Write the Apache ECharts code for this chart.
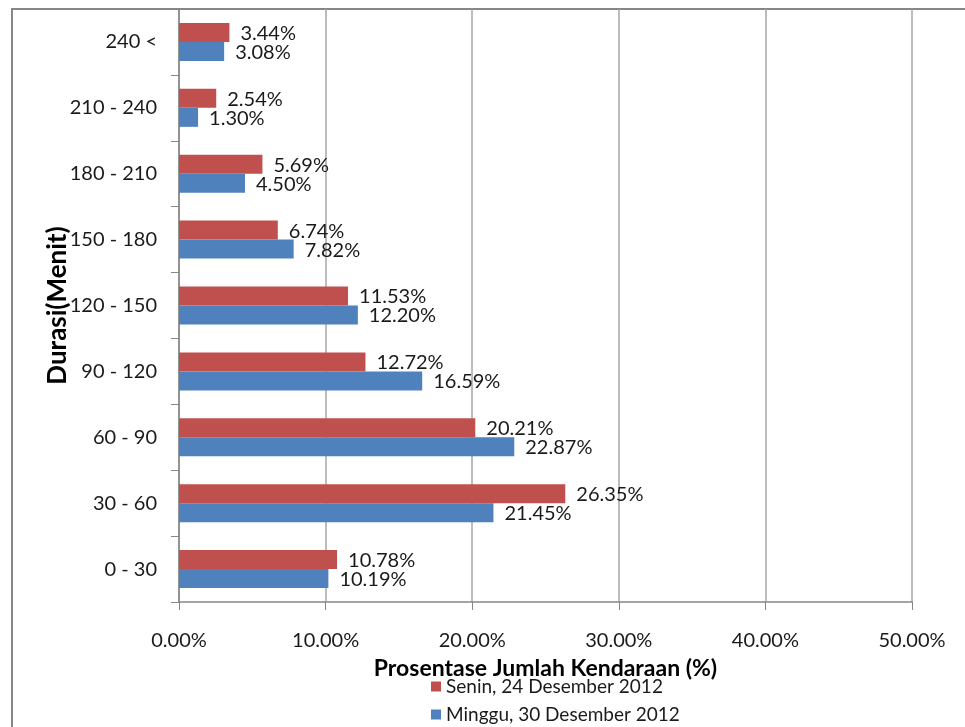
<!DOCTYPE html>
<html>
<head>
    <meta charset="UTF-8">
    <title>Durasi parkir</title>
    <script src="https://cdn.jsdelivr.net/npm/echarts@6/dist/echarts.min.js"></script>
    <style>
        html, body { margin: 0; padding: 0; background: #fff; }
        #main { width: 965px; height: 727px; }
    </style>
</head>
<body>
    <div id="main"></div>
    <script type="text/javascript">
        // categories, bottom to top
        let durasi = ['0 - 30', '30 - 60', '60 - 90', '90 - 120', '120 - 150', '150 - 180', '180 - 210', '210 - 240', '240 <'];
        // percentages
        let senin = [10.78, 26.35, 20.21, 12.72, 11.53, 6.74, 5.69, 2.54, 3.44];
        let minggu = [10.19, 21.45, 22.87, 16.59, 12.20, 7.82, 4.50, 1.30, 3.08];
        let seriesNames = ['Senin, 24 Desember 2012', 'Minggu, 30 Desember 2012'];

        let font = 'Lato, "Open Sans", sans-serif';
        let chart = echarts.init(document.getElementById('main'));

        let labelStyle = {
            show: true,
            position: 'right',
            distance: 11,
            offset: [0, 1],
            fontFamily: font,
            fontSize: 20,
            color: '#1a1a1a',
            formatter: p => p.value.toFixed(2) + '%'
        };

        let option = {
            animation: false,
            textStyle: { fontFamily: font },
            graphic: [{
                type: 'rect',
                shape: { x: 12, y: 9, width: 1000, height: 800 },
                style: { fill: null, stroke: '#868686', lineWidth: 2 },
                z: -1
            }],
            grid: { left: 179, right: 53, top: 9, bottom: 125 },
            legend: {
                orient: 'vertical',
                left: 431,
                top: 677,
                padding: 0,
                itemWidth: 10,
                itemHeight: 10,
                itemGap: 9,
                icon: 'rect',
                textStyle: { fontFamily: font, fontSize: 19, color: '#1a1a1a' },
                data: seriesNames
            },
            xAxis: {
                type: 'value',
                min: 0,
                max: 50,
                interval: 10,
                name: 'Prosentase Jumlah Kendaraan (%)',
                nameLocation: 'middle',
                nameGap: 55,
                nameMoveOverlap: false,
                nameTextStyle: { fontFamily: font, fontSize: 23, fontWeight: 'bold', color: '#000' },
                axisLine: { show: true, lineStyle: { color: '#868686', width: 1.5 } },
                axisTick: { show: true, length: 8, lineStyle: { color: '#868686' } },
                axisLabel: {
                    margin: 29,
                    fontFamily: font,
                    fontSize: 20,
                    color: '#1a1a1a',
                    formatter: v => v.toFixed(2) + '%'
                },
                splitLine: { show: true, lineStyle: { color: '#a6a6a6', width: 1.5 } }
            },
            yAxis: {
                type: 'category',
                data: durasi,
                name: 'Durasi(Menit)',
                nameLocation: 'middle',
                nameGap: 108,
                nameMoveOverlap: false,
                nameTextStyle: { fontFamily: font, fontSize: 26, fontWeight: 'bold', color: '#000' },
                axisLine: { show: true, lineStyle: { color: '#868686', width: 1.5 } },
                axisTick: { show: true, length: 8, lineStyle: { color: '#868686' } },
                axisLabel: { margin: 22, fontFamily: font, fontSize: 20, color: '#1a1a1a' },
                splitLine: { show: false }
            },
            series: [
                {
                    name: seriesNames[0],
                    type: 'bar',
                    data: senin,
                    barWidth: 19,
                    barGap: '0%',
                    itemStyle: { color: '#c0504d' },
                    label: labelStyle
                },
                {
                    name: seriesNames[1],
                    type: 'bar',
                    data: minggu,
                    barWidth: 19,
                    barGap: '0%',
                    itemStyle: { color: '#4f81bd' },
                    label: labelStyle
                }
            ]
        };

        chart.setOption(option);
    </script>
</body>
</html>
